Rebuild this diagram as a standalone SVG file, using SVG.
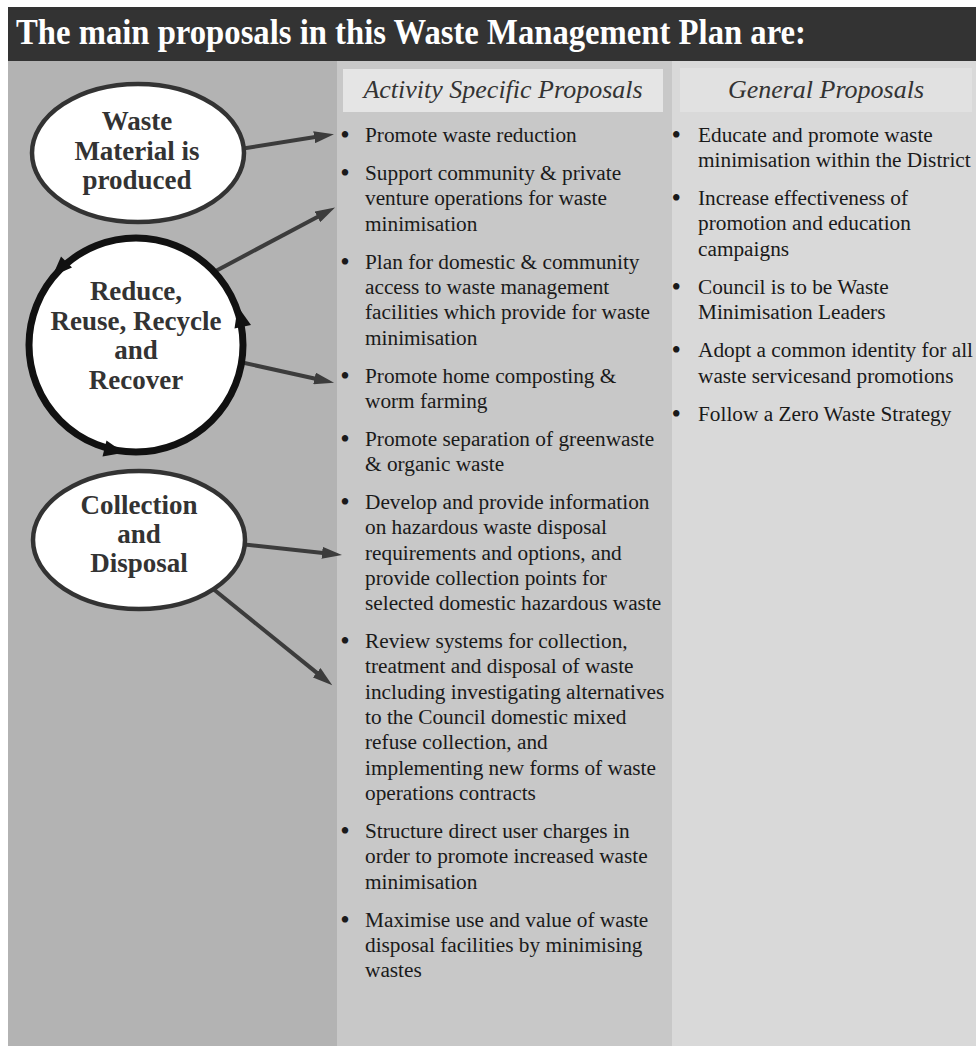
<svg xmlns="http://www.w3.org/2000/svg" width="976" height="1046" viewBox="0 0 976 1046">
<defs>
<style>
.title{font-family:"Liberation Serif","Times New Roman",serif;font-weight:bold;font-size:35px;fill:#ffffff}
.colhead{font-family:"Liberation Serif","Times New Roman",serif;font-style:italic;font-size:26px;fill:#333333}
.body{font-family:"Liberation Serif","Times New Roman",serif;font-size:21.3px;fill:#1a1a1a}
.bul{font-size:27px}
.node{font-family:"Liberation Serif","Times New Roman",serif;font-weight:bold;font-size:27px;fill:#333333;text-anchor:middle}
.ell{fill:#ffffff;stroke:#333333;stroke-width:4.5}
.conn{stroke:#3c3c3c;stroke-width:4;fill:none;marker-end:url(#ah)}
</style>
<marker id="ah" markerUnits="userSpaceOnUse" markerWidth="22" markerHeight="12" refX="1" refY="6" orient="auto">
<path d="M0,0 L20,6 L0,12 z" fill="#3c3c3c"/>
</marker>
</defs>
<rect x="0" y="0" width="976" height="1046" fill="#ffffff"/>
<rect x="8" y="7" width="968" height="54" fill="#333333"/>
<text class="title" x="16" y="44" textLength="790" lengthAdjust="spacingAndGlyphs">The main proposals in this Waste Management Plan are:</text>
<rect x="8" y="61" width="329" height="985" fill="#b3b3b3"/>
<rect x="337" y="61" width="335" height="985" fill="#c8c8c8"/>
<rect x="672" y="61" width="304" height="985" fill="#d9d9d9"/>
<g id="col-activity">
<rect x="343" y="69" width="320" height="43" fill="#e5e5e5"/>
<text class="colhead" x="503" y="98" text-anchor="middle">Activity Specific Proposals</text>
<g class="body">
<text class="bul" x="340.3" y="144">•</text><text x="365" y="142">Promote waste reduction</text>
<text class="bul" x="340.3" y="182">•</text><text x="365" y="180">Support community &amp; private</text>
<text x="365" y="205">venture operations for waste</text>
<text x="365" y="230.5">minimisation</text>
<text class="bul" x="340.3" y="270.5">•</text><text x="365" y="268.5">Plan for domestic &amp; community</text>
<text x="365" y="294">access to waste management</text>
<text x="365" y="319">facilities which provide for waste</text>
<text x="365" y="344.5">minimisation</text>
<text class="bul" x="340.3" y="384.5">•</text><text x="365" y="382.5">Promote home composting &amp;</text>
<text x="365" y="408">worm farming</text>
<text class="bul" x="340.3" y="448">•</text><text x="365" y="446">Promote separation of greenwaste</text>
<text x="365" y="471">&amp; organic waste</text>
<text class="bul" x="340.3" y="511">•</text><text x="365" y="509">Develop and provide information</text>
<text x="365" y="534">on hazardous waste disposal</text>
<text x="365" y="560">requirements and options, and</text>
<text x="365" y="585">provide collection points for</text>
<text x="365" y="610">selected domestic hazardous waste</text>
<text class="bul" x="340.3" y="650">•</text><text x="365" y="648">Review systems for collection,</text>
<text x="365" y="673">treatment and disposal of waste</text>
<text x="365" y="699">including investigating alternatives</text>
<text x="365" y="724">to the Council domestic mixed</text>
<text x="365" y="749">refuse collection, and</text>
<text x="365" y="775">implementing new forms of waste</text>
<text x="365" y="800">operations contracts</text>
<text class="bul" x="340.3" y="840">•</text><text x="365" y="838">Structure direct user charges in</text>
<text x="365" y="863">order to promote increased waste</text>
<text x="365" y="889">minimisation</text>
<text class="bul" x="340.3" y="929">•</text><text x="365" y="927">Maximise use and value of waste</text>
<text x="365" y="952">disposal facilities by minimising</text>
<text x="365" y="977">wastes</text>
</g>
</g>
<g id="col-general">
<rect x="680" y="68" width="292" height="44" fill="#e1e1e1"/>
<text class="colhead" x="826" y="98" text-anchor="middle">General Proposals</text>
<g class="body">
<text class="bul" x="671.5" y="144">•</text><text x="698" y="142">Educate and promote waste</text>
<text x="698" y="167">minimisation within the District</text>
<text class="bul" x="671.5" y="207">•</text><text x="698" y="205">Increase effectiveness of</text>
<text x="698" y="230">promotion and education</text>
<text x="698" y="256">campaigns</text>
<text class="bul" x="671.5" y="296">•</text><text x="698" y="294">Council is to be Waste</text>
<text x="698" y="319">Minimisation Leaders</text>
<text class="bul" x="671.5" y="359">•</text><text x="698" y="357">Adopt a common identity for all</text>
<text x="698" y="383">waste servicesand promotions</text>
<text class="bul" x="671.5" y="423">•</text><text x="698" y="421">Follow a Zero Waste Strategy</text>
</g>
</g>
<g id="connectors">
<line class="conn" x1="240" y1="149" x2="315.2" y2="137.1"/>
<line class="conn" x1="212" y1="273" x2="318.3" y2="216.4"/>
<line class="conn" x1="240" y1="362" x2="315.5" y2="378.7"/>
<line class="conn" x1="240" y1="544" x2="323.1" y2="552.9"/>
<line class="conn" x1="212" y1="588" x2="317.5" y2="673.4"/>
</g>
<g id="node-produced">
<ellipse class="ell" cx="138" cy="153" rx="106" ry="69"/>
<text class="node" x="137" y="130">Waste</text>
<text class="node" x="137" y="160">Material is</text>
<text class="node" x="137" y="189">produced</text>
</g>
<g id="node-reduce">
<circle cx="136" cy="345" r="107" fill="#ffffff" stroke="#111111" stroke-width="7"/>
<polygon points="52.5,276 72,267.5 61,256.5" fill="#111111"/>
<polygon points="237.8,306.5 251,325 234.5,328.5" fill="#111111"/>
<polygon points="124,452.8 102.5,456.5 106.5,440.5" fill="#111111"/>
<text class="node" x="136" y="300">Reduce,</text>
<text class="node" x="136" y="330">Reuse, Recycle</text>
<text class="node" x="136" y="359">and</text>
<text class="node" x="136" y="389">Recover</text>
</g>
<g id="node-collection">
<ellipse class="ell" cx="139" cy="540" rx="106" ry="69"/>
<text class="node" x="139" y="514">Collection</text>
<text class="node" x="139" y="543">and</text>
<text class="node" x="139" y="572">Disposal</text>
</g>
</svg>
